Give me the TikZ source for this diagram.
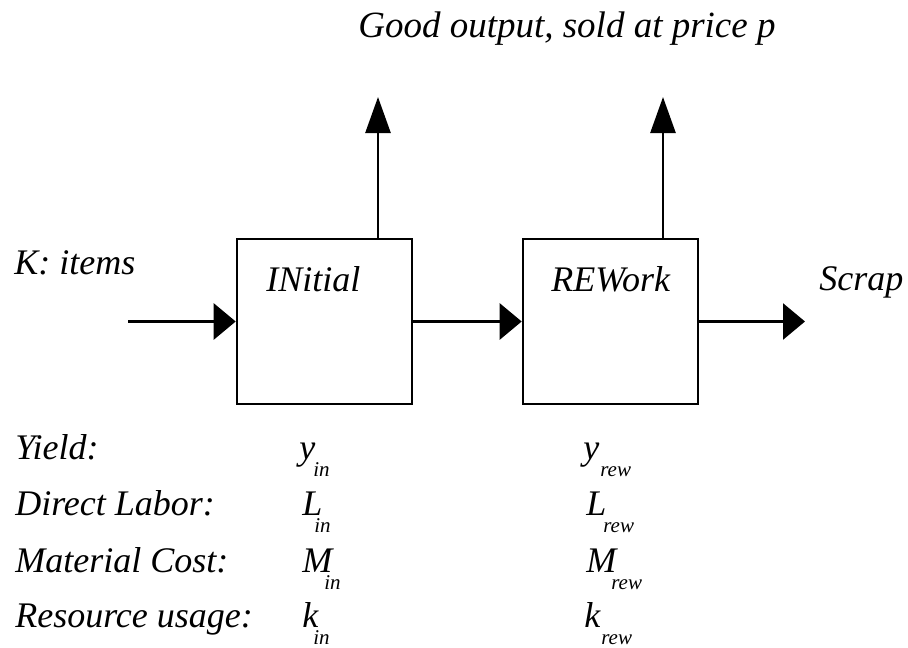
\documentclass[tikz,border=0pt]{standalone}
\usepackage{fontspec}
\setmainfont{Liberation Serif}
\usetikzlibrary{arrows.meta}
\begin{document}
\begin{tikzpicture}[x=1pt,y=-1pt,line width=2.6pt,
  lbl/.style={font=\fontsize{36}{40}\selectfont\itshape,inner sep=0pt,anchor=base west},
  sym/.style={lbl,text depth=0pt},
  sublbl/.style={font=\fontsize{21}{24}\selectfont\itshape,inner sep=0pt,anchor=base west},
  proc/.style={draw,minimum width=175pt,minimum height=165pt,inner sep=0pt},
  harrow/.style={-{Triangle[length=22pt,width=36pt]}},
  varrow/.style={-{Triangle[length=36pt,width=25pt]}}]
\useasboundingbox (0,0) rectangle (908,648);
% boxes
\node[proc] (in) at (324.5,321.5) {};
\node[proc] (rew) at (610.5,321.5) {};
% connectors
\coordinate (kin) at (128,321.5);
\coordinate (scrapend) at (805,321.5);
\coordinate (up1) at (378,97);
\coordinate (up2) at (663,97);
\draw[harrow] (kin) -- (in.west);
\draw[harrow] (in.east) -- (rew.west);
\draw[harrow] (rew.east) -- (scrapend);
\draw[varrow] (in.north -| up1) -- (up1);
\draw[varrow] (rew.north -| up2) -- (up2);
% labels
\node[lbl,font=\fontsize{37}{40}\selectfont\itshape] (good) at (357,37) {Good output, sold at price p};
\node[lbl] (kitems) at (13,274) {K: items};
\node[lbl] (tin) at (265,291) {INitial};
\node[lbl] (trew) at (550,291) {REWork};
\node[lbl] (scrap) at (818,290) {Scrap};
% table
\node[lbl] (r1) at (14,459) {Yield:};
\node[lbl] (r2) at (14,515) {Direct Labor:};
\node[lbl] (r3) at (14,572) {Material Cost:};
\node[lbl] (r4) at (14,627) {Resource usage:};
\node[sym] (y1) at (298,459) {y};
\node[sym] (l1) at (301,515) {L};
\node[sym] (m1) at (301,572) {M};
\node[sym] (k1) at (301,627) {k};
\node[sublbl] (y1s) at (312,476) {in};
\node[sublbl] (l1s) at (313,532) {in};
\node[sublbl] (m1s) at (323,589) {in};
\node[sublbl] (k1s) at (312,644) {in};
\node[sym] (y2) at (582,459) {y};
\node[sym] (l2) at (585,515) {L};
\node[sym] (m2) at (585,572) {M};
\node[sym] (k2) at (583,627) {k};
\node[sublbl] (y2s) at (599,476) {rew};
\node[sublbl] (l2s) at (602,532) {rew};
\node[sublbl] (m2s) at (610,589) {rew};
\node[sublbl] (k2s) at (600,644) {rew};
\end{tikzpicture}
\end{document}
